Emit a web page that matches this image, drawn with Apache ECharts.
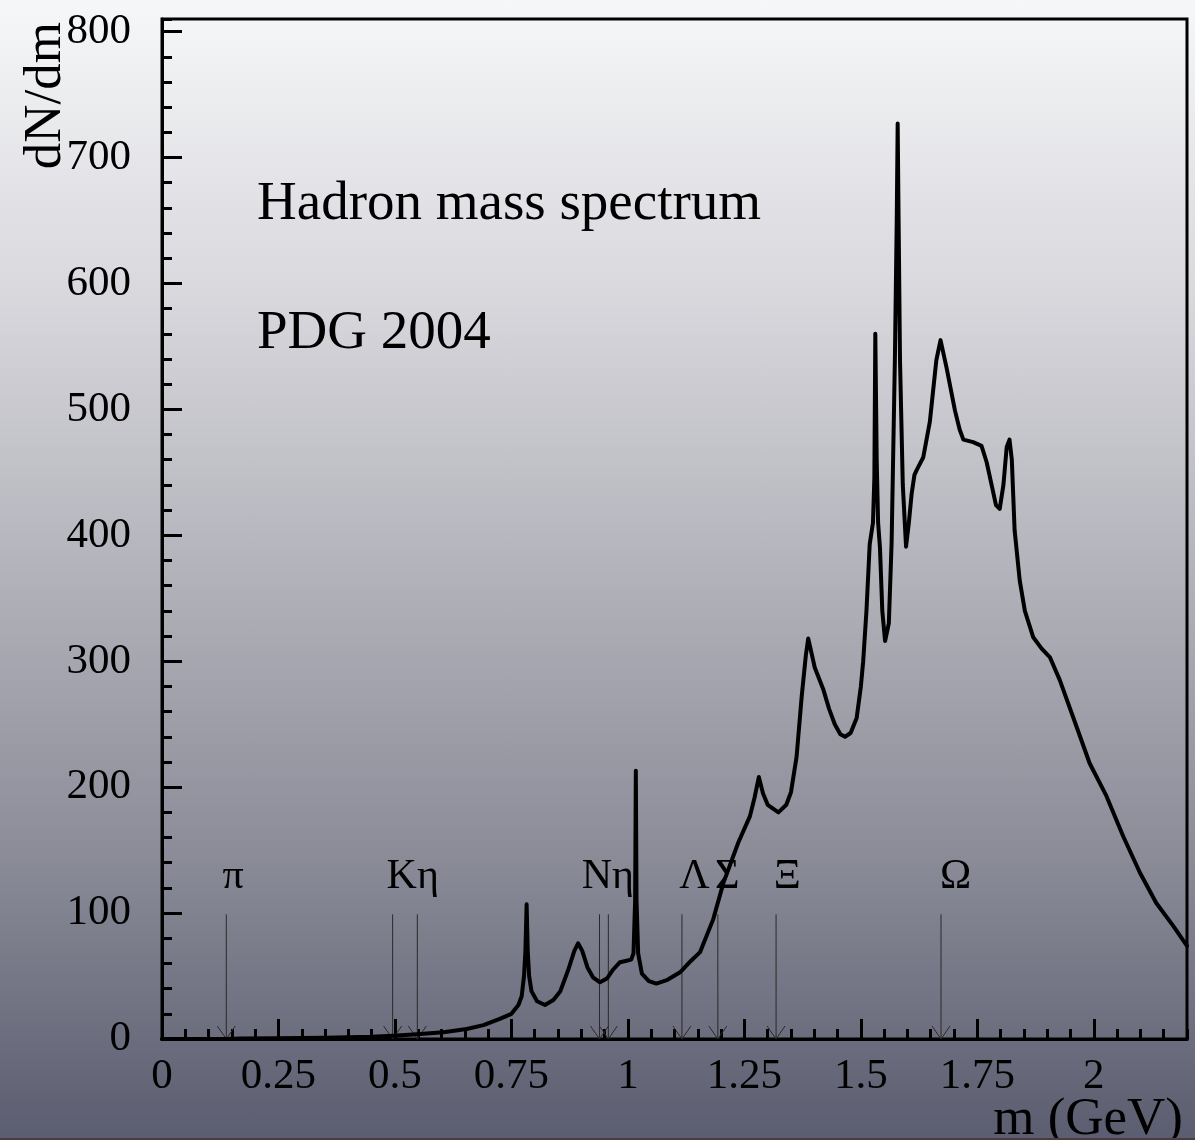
<!DOCTYPE html>
<html>
<head>
<meta charset="utf-8">
<script src="https://cdn.jsdelivr.net/npm/echarts@6/dist/echarts.min.js"></script>
<style>
html, body { margin: 0; padding: 0; }
#chart {
  width: 1195px; height: 1140px;
  background: linear-gradient(to bottom, #f6f7f8 0%, #d9d9de 25%, #b3b3bb 50%, #8b8c98 75%, #5b5d70 100%);
  box-sizing: border-box; border-bottom: 2px solid #4a3c3e;
}
</style>
</head>
<body>
<div id="chart"></div>
<script>
// Hadron mass spectrum, PDG 2004
const massGeV = [0, 0.14, 0.17, 0.25, 0.35, 0.45, 0.496, 0.547, 0.604, 0.654, 0.69, 0.725, 0.75, 0.765, 0.772, 0.777, 0.780, 0.7826, 0.785, 0.788, 0.793, 0.805, 0.822, 0.84, 0.855, 0.872, 0.885, 0.893, 0.902, 0.913, 0.925, 0.940, 0.955, 0.968, 0.983, 0.995, 1.007, 1.012, 1.0155, 1.017, 1.0185, 1.022, 1.030, 1.045, 1.061, 1.085, 1.112, 1.135, 1.155, 1.183, 1.205, 1.237, 1.262, 1.272, 1.281, 1.290, 1.300, 1.323, 1.340, 1.350, 1.362, 1.373, 1.382, 1.387, 1.395, 1.401, 1.419, 1.432, 1.444, 1.456, 1.466, 1.478, 1.491, 1.500, 1.505, 1.512, 1.519, 1.526, 1.529, 1.531, 1.534, 1.537, 1.541, 1.546, 1.552, 1.560, 1.566, 1.573, 1.577, 1.579, 1.581, 1.584, 1.590, 1.597, 1.603, 1.609, 1.615, 1.620, 1.634, 1.648, 1.662, 1.671, 1.684, 1.702, 1.712, 1.720, 1.741, 1.759, 1.770, 1.780, 1.790, 1.798, 1.806, 1.813, 1.819, 1.824, 1.830, 1.841, 1.852, 1.870, 1.888, 1.906, 1.927, 1.963, 1.991, 2.027, 2.063, 2.099, 2.134, 2.170, 2.2];
const dNdm = [0, 0, 0.3, 0.6, 1.0, 1.8, 2.6, 3.7, 5.3, 8, 11, 16, 20, 27, 34, 50, 70, 107, 70, 50, 38, 30, 27, 31, 38, 55, 70, 76, 70, 57, 49, 45, 48, 55, 61, 62, 63, 68, 110, 213, 110, 68, 52, 46, 44, 47, 53, 62, 69, 95, 124, 156, 177, 192, 208, 195, 186, 180, 186, 196, 224, 272, 305, 318, 305, 295, 278, 262, 250, 242, 240, 243, 255, 280, 300, 340, 393, 410, 446, 560, 460, 410, 390, 340, 316, 330, 394, 539, 650, 727, 650, 539, 440, 391, 410, 433, 448, 452, 462, 490, 539, 555, 533, 499, 484, 476, 474, 471, 458, 441, 424, 421, 440, 470, 476, 460, 404, 364, 340, 319, 310, 303, 285, 248, 219, 193, 161, 132, 108, 90, 74];

// particle mass arrows
const particleMass = [0.138, 0.495, 0.548, 0.939, 0.958, 1.116, 1.193, 1.318, 1.672];
const arrowTop = 99;
// particle labels (left edge in GeV, centre height in dN/dm units)
const labelTexts = ['π', 'Kη', 'Nη', 'Λ', 'Σ', 'Ξ', 'Ω'];
const labelX = [0.130, 0.482, 0.901, 1.110, 1.187, 1.313, 1.670];
const labelY = 129;

// axis ticks
const xMin = 0, xMax = 2.2, xMajor = 0.25, xMinor = 0.05;
const yMin = 0, yMax = 810, yMajor = 100, yMinor = 20;

const FONT = "'Liberation Serif', 'DejaVu Serif', serif";
const chart = echarts.init(document.getElementById('chart'), null, { renderer: 'canvas' });

const curve = massGeV.map((m, i) => [m, dNdm[i]]);

const option = {
  animation: false,
  backgroundColor: 'transparent',
  grid: { left: 162, right: 8, top: 19, bottom: 99, show: true, borderColor: '#000', borderWidth: 3, backgroundColor: 'transparent', outerBoundsMode: 'none' },
  xAxis: [
    {
      type: 'value', min: xMin, max: xMax, interval: xMajor, position: 'bottom',
      axisLine: { show: true, onZero: false, lineStyle: { color: '#000', width: 3 } },
      axisTick: { show: true, inside: true, length: 20, lineStyle: { color: '#000', width: 3 } },
      axisLabel: { show: true, showMaxLabel: false, margin: 16, fontFamily: FONT, fontSize: 43, color: '#000',
        formatter: v => String(+v.toFixed(2)) },
      splitLine: { show: false }
    },
    {
      type: 'value', min: xMin, max: xMax, interval: xMinor, position: 'bottom',
      axisLine: { show: false, onZero: false },
      axisTick: { show: true, inside: true, length: 10, lineStyle: { color: '#000', width: 3 } },
      axisLabel: { show: false }, splitLine: { show: false }
    }
  ],
  yAxis: [
    {
      type: 'value', min: yMin, max: yMax, interval: yMajor, position: 'left',
      axisLine: { show: true, onZero: false, lineStyle: { color: '#000', width: 3 } },
      axisTick: { show: true, inside: true, length: 20, lineStyle: { color: '#000', width: 3 } },
      axisLabel: { show: true, showMaxLabel: false, margin: 31, fontFamily: FONT, fontSize: 43, color: '#000' },
      splitLine: { show: false }
    },
    {
      type: 'value', min: yMin, max: yMax, interval: yMinor, position: 'left',
      axisLine: { show: false, onZero: false },
      axisTick: { show: true, inside: true, length: 10, lineStyle: { color: '#000', width: 3 } },
      axisLabel: { show: false }, splitLine: { show: false }
    }
  ],
  graphic: [
    { type: 'text', x: 257, y: 205, style: { text: 'Hadron mass spectrum', font: "55px 'Liberation Serif', serif", fill: '#000', align: 'left', verticalAlign: 'middle' } },
    { type: 'text', x: 257, y: 334, style: { text: 'PDG 2004', font: "55px 'Liberation Serif', serif", fill: '#000', align: 'left', verticalAlign: 'middle' } },
    { type: 'text', x: 1183, y: 1120, style: { text: 'm (GeV)', font: "53px 'Liberation Serif', serif", fill: '#000', align: 'right', verticalAlign: 'middle' } },
    { type: 'text', x: 46, y: 22, rotation: Math.PI / 2, style: { text: 'dN/dm', font: "53px 'Liberation Serif', serif", fill: '#000', align: 'right', verticalAlign: 'middle' } }
  ],
  series: [
    {
      type: 'line', xAxisIndex: 0, yAxisIndex: 0, data: curve,
      showSymbol: false, smooth: false,
      lineStyle: { color: '#000', width: 4, join: 'round', cap: 'round' }, z: 5
    },
    {
      type: 'custom', xAxisIndex: 0, yAxisIndex: 0,
      data: particleMass.map(m => [m, arrowTop]),
      encode: { x: 0, y: 1 },
      clip: false, z: 3,
      renderItem: function (params, api) {
        const x = api.value(0);
        const top = api.coord([x, api.value(1)]);
        const bot = api.coord([x, 0]);
        return {
          type: 'group', children: [
            { type: 'line', shape: { x1: top[0], y1: top[1], x2: bot[0], y2: bot[1] }, style: { stroke: '#2a2a2a', lineWidth: 1 } },
            { type: 'polyline', shape: { points: [[bot[0] - 9, bot[1] - 13], [bot[0], bot[1]], [bot[0] + 9, bot[1] - 13]] }, style: { stroke: '#2a2a2a', fill: null, lineWidth: 1 } }
          ]
        };
      }
    },
    {
      type: 'custom', xAxisIndex: 0, yAxisIndex: 0,
      data: labelX.map(x => [x, labelY]),
      encode: { x: 0, y: 1 },
      clip: false, z: 4,
      renderItem: function (params, api) {
        const p = api.coord([api.value(0), api.value(1)]);
        return {
          type: 'text', x: p[0], y: p[1],
          style: { text: labelTexts[params.dataIndex], font: "42px 'Liberation Serif', serif", fill: '#000', align: 'left', verticalAlign: 'middle' }
        };
      }
    }
  ]
};
chart.setOption(option);
</script>
</body>
</html>
